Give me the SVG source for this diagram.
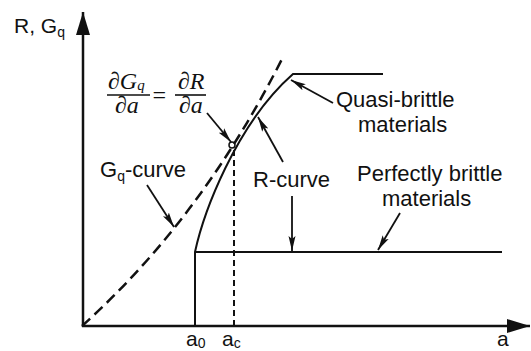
<svg xmlns="http://www.w3.org/2000/svg" width="531" height="351" viewBox="0 0 531 351">
<style>
.t{font-family:"Liberation Sans",Arial,sans-serif;font-size:22px;fill:#111}
.m{font-family:"Liberation Serif","Times New Roman",serif;font-style:italic;font-size:24px;fill:#111}
.sub{font-size:14px}
.ln{fill:none;stroke:#111;stroke-width:2}
.ax{fill:none;stroke:#111;stroke-width:2.5}
.dash{fill:none;stroke:#111;stroke-width:2.5;stroke-dasharray:11 6}
.dash2{fill:none;stroke:#111;stroke-width:2;stroke-dasharray:6 4}
.ar{fill:none;stroke:#111;stroke-width:1.8}
</style>
<defs>
<marker id="ah" markerUnits="userSpaceOnUse" markerWidth="16" markerHeight="10" refX="15" refY="4" orient="auto">
<path d="M0,0.5 L15,4 L0,7.5 L3,4 Z" fill="#111"/>
</marker>
<marker id="axh" markerUnits="userSpaceOnUse" markerWidth="24" markerHeight="16" refX="23" refY="7" orient="auto">
<path d="M0,0 L23,7 L0,14 Z" fill="#111"/>
</marker>
</defs>
<rect width="531" height="351" fill="#fff"/>
<g id="axes">
<path class="ax" d="M83,327 L83,12" marker-end="url(#axh)"/>
<path class="ax" d="M82,326 L530,326" marker-end="url(#axh)"/>
</g>
<g id="gq-curve-line">
<path class="dash" d="M82,326 Q202,218 283,57"/>
</g>
<g id="r-curve-line">
<path class="ln" d="M195,326 L195,252 C203,215 235,125 293,74 L383,74"/>
</g>
<g id="brittle-line">
<path class="ln" d="M195,252 L502,252"/>
</g>
<g id="ac-line">
<path class="dash2" d="M234,326 L234,148"/>
<circle cx="232" cy="145" r="3" fill="none" stroke="#111" stroke-width="1.5"/>
</g>
<g id="connectors">
<path class="ar" d="M207,113 L231,142" marker-end="url(#ah)"/>
<path class="ar" d="M147,185 L174,227" marker-end="url(#ah)"/>
<path class="ar" d="M283,162 L258,117" marker-end="url(#ah)"/>
<path class="ar" d="M333,103 L291,80" marker-end="url(#ah)"/>
<path class="ar" d="M292,196 L292,251" marker-end="url(#ah)"/>
<path class="ar" d="M400,213 L378,250" marker-end="url(#ah)"/>
</g>
<g id="label-axis-y"><text class="t" x="14" y="33" style="font-size:21px">R, G<tspan class="sub" dy="4">q</tspan></text></g>
<g id="label-a0"><text class="t" x="186" y="346" style="font-size:21px">a<tspan class="sub" dy="2">0</tspan></text></g>
<g id="label-ac"><text class="t" x="222" y="346" style="font-size:21px">a<tspan class="sub" dy="2">c</tspan></text></g>
<g id="label-a"><text class="t" x="497" y="346" style="font-size:21px">a</text></g>
<g id="formula">
<text class="m" x="108" y="89">∂G<tspan style="font-size:15px" dy="1">q</tspan></text>
<line x1="107" y1="95" x2="150" y2="95" stroke="#111" stroke-width="1.6"/>
<text class="m" x="115" y="113">∂a</text>
<text class="m" x="151" y="103">=</text>
<text class="m" x="178" y="89">∂R</text>
<line x1="175" y1="95" x2="206" y2="95" stroke="#111" stroke-width="1.6"/>
<text class="m" x="179" y="113">∂a</text>
</g>
<g id="label-gq-curve"><text class="t" x="100" y="177">G<tspan class="sub" dy="4">q</tspan><tspan dy="-4">-curve</tspan></text></g>
<g id="label-r-curve"><text class="t" x="253" y="187">R-curve</text></g>
<g id="label-quasi"><text class="t" x="336" y="107">Quasi-brittle</text><text class="t" x="358" y="132">materials</text></g>
<g id="label-perfect"><text class="t" x="357" y="181">Perfectly brittle</text><text class="t" x="382" y="206">materials</text></g>
</svg>
